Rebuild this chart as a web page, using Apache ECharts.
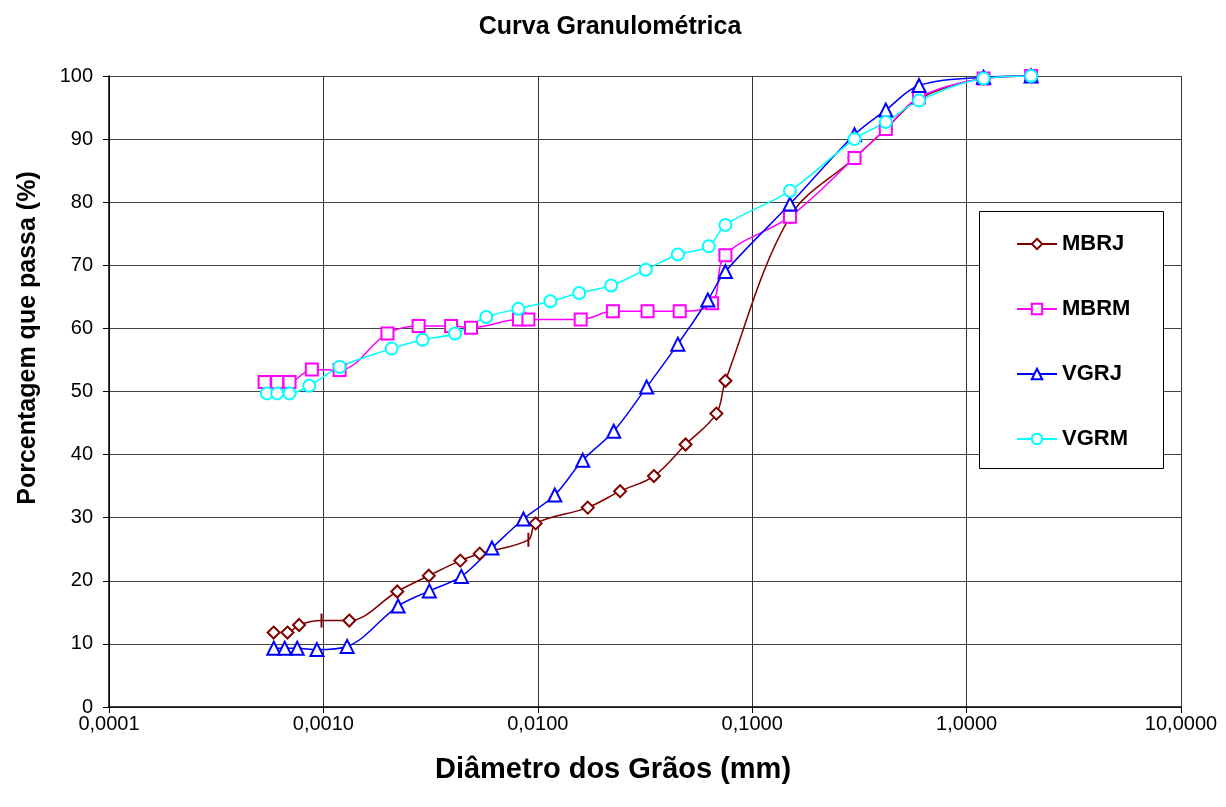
<!DOCTYPE html>
<html>
<head>
<meta charset="utf-8">
<script src="https://cdn.jsdelivr.net/npm/echarts@6/dist/echarts.min.js"></script>
<style>
  html, body { margin: 0; padding: 0; background: #fff; }
  #chart { width: 1226px; height: 807px; }
</style>
</head>
<body>
<div id="chart"></div>
<script>
// Grain-size distribution: diameter (mm) vs. percent passing
const seriesNames = ['MBRJ', 'MBRM', 'VGRJ', 'VGRM'];
const xTickValues = [0.0001, 0.001, 0.01, 0.1, 1, 10];
const yTickValues = [0, 10, 20, 30, 40, 50, 60, 70, 80, 90, 100];

const mbrjDiam = [0.000586, 0.00068, 0.00077, 0.00098, 0.00132, 0.00221, 0.0031, 0.00435, 0.00536, 0.00904, 0.00977, 0.0171, 0.0242, 0.0348, 0.0489, 0.0681, 0.075, 0.15, 0.3, 0.42, 0.6, 1.2, 2.0];
const mbrjPass = [11.8, 11.8, 13.0, 13.7, 13.7, 18.3, 20.8, 23.2, 24.3, 26.5, 29.1, 31.6, 34.2, 36.6, 41.6, 46.5, 51.7, 77.7, 87.0, 91.6, 96.4, 99.6, 100];
// readings of MBRJ drawn with a dash marker
const mbrjDashDiam = [0.00098, 0.00904];

const mbrmDiam = [0.000532, 0.000609, 0.000695, 0.000883, 0.00119, 0.00199, 0.00278, 0.00394, 0.00488, 0.00817, 0.00904, 0.01585, 0.0224, 0.0325, 0.0459, 0.065, 0.075, 0.15, 0.3, 0.42, 0.6, 1.2, 2.0];
const mbrmPass = [51.5, 51.5, 51.5, 53.5, 53.4, 59.2, 60.4, 60.4, 60.1, 61.4, 61.4, 61.4, 62.7, 62.7, 62.7, 64.0, 71.6, 77.7, 87.0, 91.6, 96.6, 99.6, 100];

const vgrjDiam = [0.000587, 0.00066, 0.000755, 0.000933, 0.00129, 0.00223, 0.00312, 0.0044, 0.00611, 0.00857, 0.012, 0.0162, 0.0226, 0.0322, 0.045, 0.0621, 0.075, 0.15, 0.3, 0.42, 0.6, 1.2, 2.0];
const vgrjPass = [9.3, 9.3, 9.3, 9.1, 9.6, 16.0, 18.4, 20.7, 25.2, 29.8, 33.6, 39.1, 43.7, 50.7, 57.5, 64.5, 69.0, 79.7, 90.7, 94.6, 98.5, 99.8, 100];

const vgrmDiam = [0.000545, 0.000609, 0.000695, 0.000859, 0.00119, 0.00208, 0.0029, 0.00411, 0.00575, 0.00812, 0.01145, 0.0156, 0.022, 0.0319, 0.045, 0.0627, 0.075, 0.15, 0.3, 0.42, 0.6, 1.2, 2.0];
const vgrmPass = [49.7, 49.7, 49.7, 50.9, 53.9, 56.8, 58.2, 59.2, 61.8, 63.1, 64.3, 65.6, 66.8, 69.3, 71.7, 73.0, 76.4, 81.8, 90.0, 92.7, 96.1, 99.6, 100];

const FONT = '"Liberation Sans", Arial, sans-serif';

function pairs(xs, ys) {
  return xs.map((x, i) => [x, ys[i]]);
}

function fmtDiam(v) {
  // decimal comma, four places
  return Number(v).toFixed(4).replace('.', ',');
}

const mbrjData = pairs(mbrjDiam, mbrjPass).map(p =>
  mbrjDashDiam.includes(p[0])
    ? { value: p, symbol: 'rect', symbolSize: [2, 14], itemStyle: { color: '#800000', borderWidth: 0 } }
    : p
);

function lineSeries(name, data, color, symbol, size) {
  return {
    name: name,
    type: 'line',
    data: data,
    smooth: 0.35,
    symbol: symbol,
    symbolSize: size,
    showAllSymbol: true,
    lineStyle: { color: color, width: 1.5 },
    itemStyle: { color: color, borderWidth: 1.5 },
    emphasis: { disabled: true },
    animation: false
  };
}

const chart = echarts.init(document.getElementById('chart'), null, { renderer: 'canvas' });

chart.setOption({
  backgroundColor: '#fff',
  animation: false,
  grid: { left: 109, right: 45, top: 76, bottom: 100, containLabel: false },
  xAxis: {
    type: 'log',
    logBase: 10,
    min: xTickValues[0],
    max: xTickValues[xTickValues.length - 1],
    axisLine: { show: true, onZero: false, lineStyle: { color: '#000', width: 1.5 } },
    axisTick: { show: true, inside: false, length: 6, lineStyle: { color: '#000' } },
    axisLabel: {
      fontFamily: FONT, fontSize: 20, color: '#000', margin: 7,
      formatter: fmtDiam
    },
    splitLine: { show: true, lineStyle: { color: '#333', width: 1 } },
    minorTick: { show: false },
    minorSplitLine: { show: false }
  },
  yAxis: {
    type: 'value',
    min: yTickValues[0],
    max: yTickValues[yTickValues.length - 1],
    interval: 10,
    axisLine: { show: true, lineStyle: { color: '#000', width: 1.5 } },
    axisTick: { show: true, inside: false, length: 6, lineStyle: { color: '#000' } },
    axisLabel: { fontFamily: FONT, fontSize: 20, color: '#000', margin: 16 },
    splitLine: { show: true, lineStyle: { color: '#444', width: 1 } }
  },
  legend: {
    orient: 'vertical',
    left: 1016,
    top: 231,
    padding: 0,
    z: 10,
    itemWidth: 40,
    itemHeight: 13,
    itemGap: 39,
    itemStyle: { borderWidth: 1.5 },
    textStyle: { fontFamily: FONT, fontSize: 22, fontWeight: 'bold', color: '#000', lineHeight: 26 },
    data: seriesNames,
    selectedMode: false
  },
  graphic: [
    {
      type: 'rect',
      shape: { x: 979.5, y: 211.5, width: 184, height: 257 },
      style: { fill: '#fff', stroke: '#000', lineWidth: 1 },
      z: 3
    },
    {
      type: 'text',
      x: 610, y: 27,
      style: {
        text: 'Curva Granulométrica',
        align: 'center', verticalAlign: 'middle',
        font: 'bold 25px ' + FONT, fill: '#000'
      }
    },
    {
      type: 'text',
      x: 613, y: 770,
      style: {
        text: 'Diâmetro dos Grãos (mm)',
        align: 'center', verticalAlign: 'middle',
        font: 'bold 29px ' + FONT, fill: '#000'
      }
    },
    {
      type: 'text',
      x: 28, y: 338,
      rotation: Math.PI / 2,
      style: {
        text: 'Porcentagem que passa (%)',
        align: 'center', verticalAlign: 'middle',
        font: 'bold 25px ' + FONT, fill: '#000'
      }
    }
  ],
  series: [
    lineSeries('MBRJ', mbrjData, '#800000', 'emptyDiamond', 12),
    lineSeries('MBRM', pairs(mbrmDiam, mbrmPass), '#FF00FF', 'emptyRect', 12),
    lineSeries('VGRJ', pairs(vgrjDiam, vgrjPass), '#0000FF', 'emptyTriangle', 13),
    lineSeries('VGRM', pairs(vgrmDiam, vgrmPass), '#00FFFF', 'emptyCircle', 12)
  ]
});
</script>
</body>
</html>
